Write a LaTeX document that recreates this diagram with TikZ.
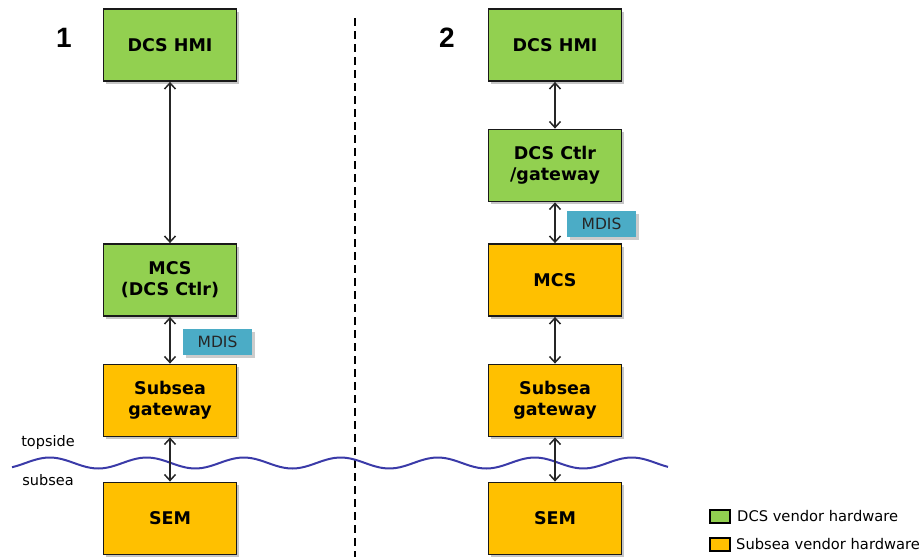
\documentclass[tikz,border=0pt]{standalone}
\usepackage{fontspec}
\setmainfont{DejaVu Sans}
\newfontfamily\numfont{Liberation Sans}
\usetikzlibrary{arrows.meta,shadows}

\definecolor{dcsgreen}{HTML}{92D050}
\definecolor{seaorange}{HTML}{FFC000}
\definecolor{mdisblue}{HTML}{4BACC6}
\definecolor{wavecol}{HTML}{3A3AA8}

\tikzset{
  hw/.style={draw=black!90, line width=1.8pt, minimum width=133pt, minimum height=72pt,
    align=center, font=\fontsize{17.5}{21}\selectfont\bfseries,
    drop shadow={shadow xshift=2.5pt, shadow yshift=-2.5pt, fill=black!50, opacity=.45}},
  dcsbox/.style={hw, fill=dcsgreen},
  subbox/.style={hw, fill=seaorange},
  mdisbox/.style={fill=mdisblue, minimum width=69pt, minimum height=26pt, text=black!85,
    font=\fontsize{15.5}{16}\selectfont,
    drop shadow={shadow xshift=2.5pt, shadow yshift=-2.5pt, fill=black!50, opacity=.4}},
  link/.style={line width=1.5pt, draw=black!85,
    {Straight Barb[length=6pt,width=11pt]}-{Straight Barb[length=6pt,width=11pt]}},
  keybox/.style={draw=black, line width=1.4pt, minimum width=20pt, minimum height=13pt, inner sep=0pt},
  keytext/.style={anchor=west, font=\fontsize{14.7}{16}\selectfont, inner sep=0pt},
}

\begin{document}
\begin{tikzpicture}[x=1pt, y=-1pt]
    \useasboundingbox (0,0) rectangle (924,557);

    % divider between the two cases
    \draw[line width=1.3pt, dash pattern=on 8pt off 5pt] (355,18) -- (355,557);

    % sea surface
    \draw[wavecol, line width=2pt, smooth, samples=160, domain=12:668]
        plot (\x, {463-5.5*sin(3.7113*(\x-25.5))});
    \node (top) at (48,442) {\fontsize{14.5}{16}\selectfont topside};
    \node (sea) at (48,480) {\fontsize{14.5}{16}\selectfont subsea};

    % case 1
    \node (num1) at (64,38) {\numfont\bfseries\fontsize{28}{28}\selectfont 1};
    \node[dcsbox] (hmiA) at (170,45)    {DCS HMI};
    \node[dcsbox] (mcsA) at (170,280)   {MCS\\(DCS Ctlr)};
    \node[subbox] (gwA)  at (170,400.5) {Subsea\\gateway};
    \node[subbox] (semA) at (170,518.5) {SEM};
    \node[mdisbox] (mdisA) at (217.5,342) {MDIS};

    \draw[link] (hmiA) -- (mcsA);
    \draw[link] (mcsA) -- (gwA);
    \draw[link] (gwA) -- (semA);

    % case 2
    \node (num2) at (447,38) {\numfont\bfseries\fontsize{28}{28}\selectfont 2};
    \node[dcsbox] (hmiB) at (555,45)    {DCS HMI};
    \node[dcsbox] (ctlB) at (555,165.5) {DCS Ctlr\\/gateway};
    \node[subbox] (mcsB) at (555,280)   {MCS};
    \node[subbox] (gwB)  at (555,400.5) {Subsea\\gateway};
    \node[subbox] (semB) at (555,518.5) {SEM};
    \node[mdisbox] (mdisB) at (601.5,224) {MDIS};

    \draw[link] (hmiB) -- (ctlB);
    \draw[link] (ctlB) -- (mcsB);
    \draw[link] (mcsB) -- (gwB);
    \draw[link] (gwB) -- (semB);

    % legend
    \node[keybox, fill=dcsgreen]  (keyA) at (720,516.5) {};
    \node[keybox, fill=seaorange] (keyB) at (720,544.5) {};
    \node[keytext] (keyAtxt) at (737,516.5) {DCS vendor hardware};
    \node[keytext] (keyBtxt) at (736,544.5) {Subsea vendor hardware};
\end{tikzpicture}
\end{document}
